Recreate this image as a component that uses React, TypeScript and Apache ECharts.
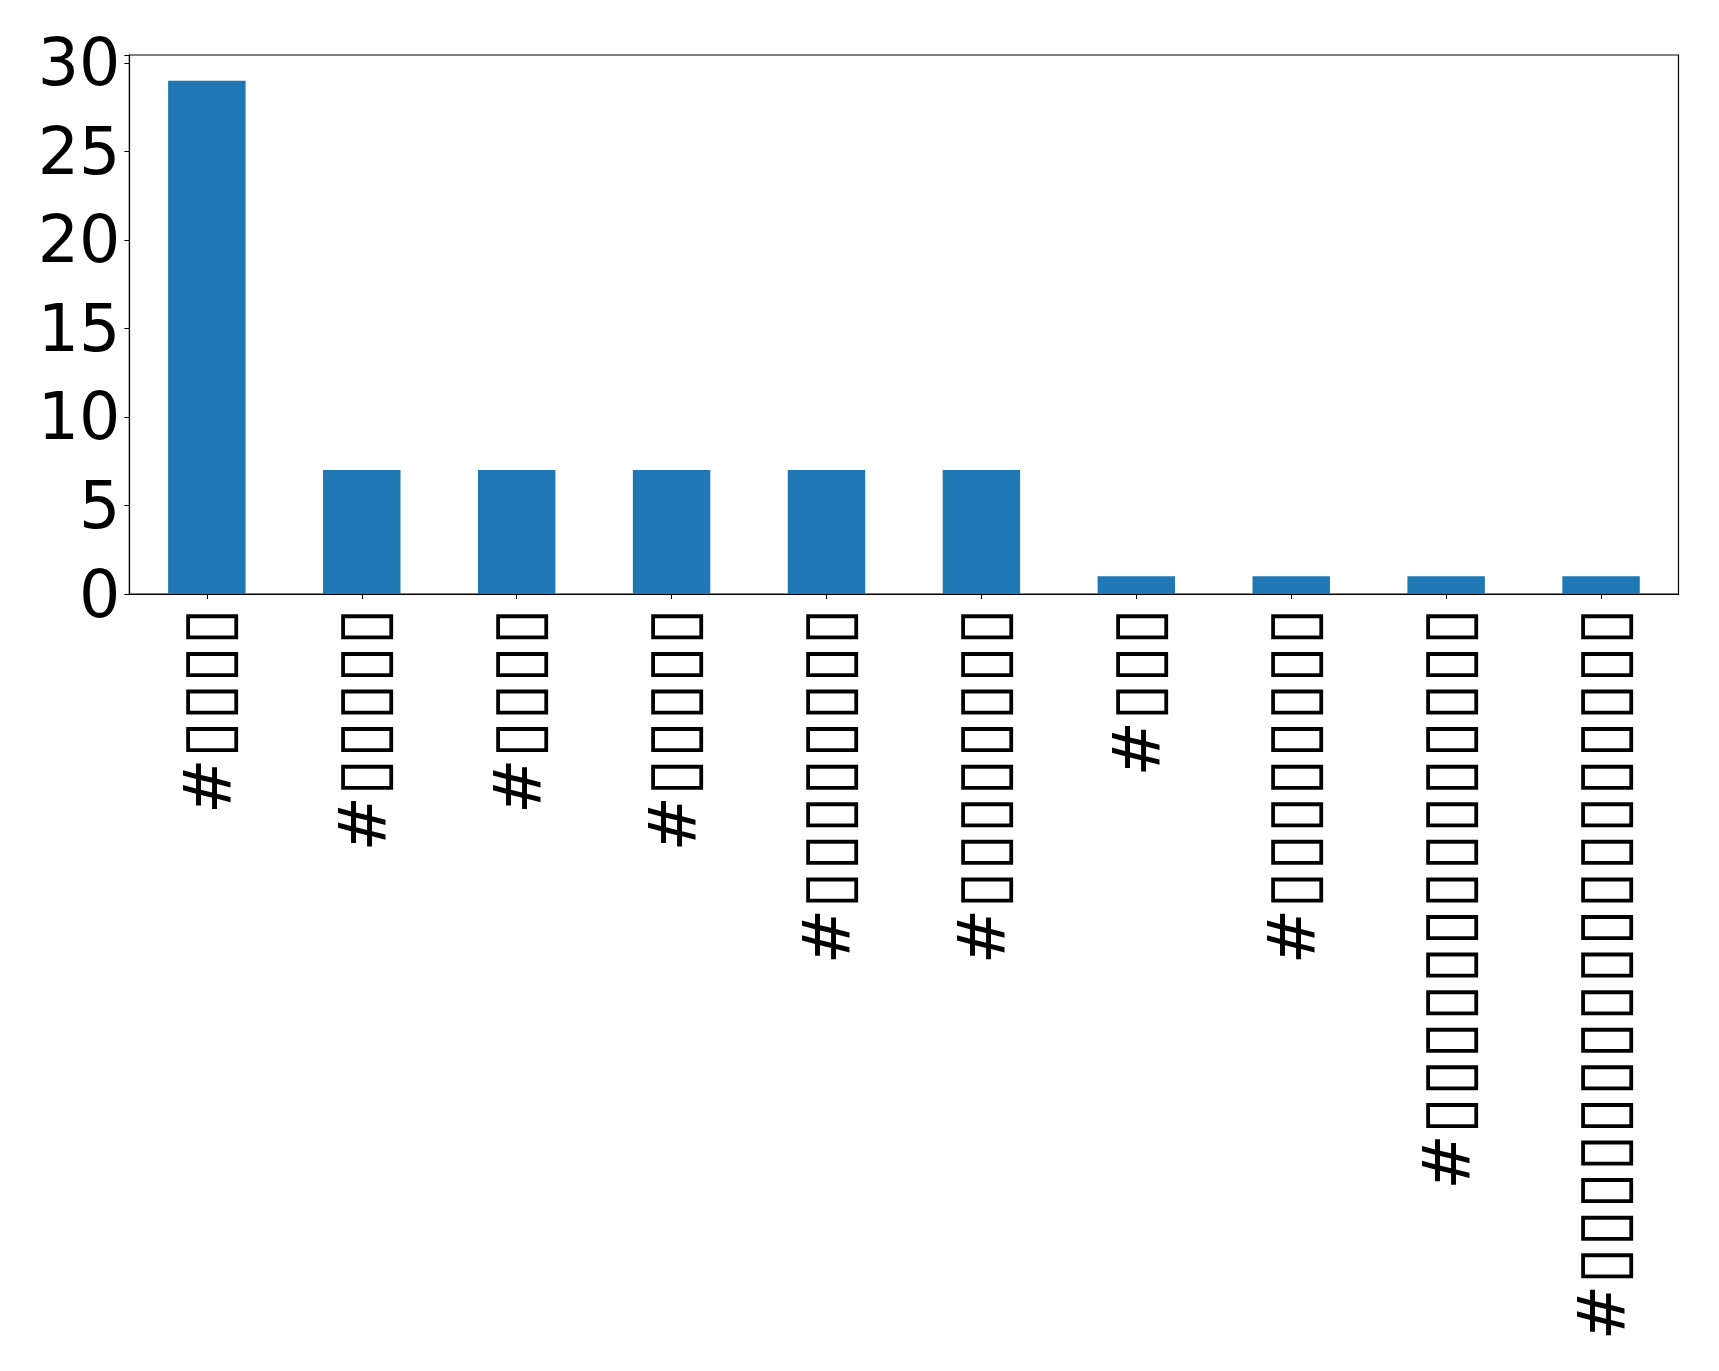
import React, { useEffect, useRef } from "react";
import * as echarts from "echarts";

const categories = [
  "#▯▯▯▯",
  "#▯▯▯▯▯",
  "#▯▯▯▯",
  "#▯▯▯▯▯",
  "#▯▯▯▯▯▯▯▯",
  "#▯▯▯▯▯▯▯▯",
  "#▯▯▯",
  "#▯▯▯▯▯▯▯▯",
  "#▯▯▯▯▯▯▯▯▯▯▯▯▯▯",
  "#▯▯▯▯▯▯▯▯▯▯▯▯▯▯▯▯▯▯",
];
const counts = [29, 7, 7, 7, 7, 7, 1, 1, 1, 1];
const yTicks = [0, 5, 10, 15, 20, 25, 30];

export default function App() {
  const ref = useRef<HTMLDivElement>(null);
  useEffect(() => {
    document.body.style.margin = "0";
    const chart = echarts.init(ref.current!, null, { renderer: "svg" });
    chart.setOption({
      animation: false,
      backgroundColor: "#ffffff",
      grid: {
        left: 129.4,
        right: 40.5,
        top: 55,
        bottom: 777,
        show: true,
        borderColor: "#000000",
        borderWidth: 1.2,
        backgroundColor: "transparent",
      },
      xAxis: {
        type: "category",
        data: categories,
        axisLine: { show: true, lineStyle: { color: "#000", width: 1.2 } },
        axisTick: { show: true, alignWithLabel: true, length: 5, lineStyle: { color: "#000" } },
        axisLabel: {
          rotate: 90,
          interval: 0,
          color: "#000",
          fontFamily: "DejaVu Sans",
          fontSize: 66.7,
          margin: 14,
          formatter: (v: string) => "{h|" + v.slice(0, 1) + "}{b|" + v.slice(1) + "}",
          rich: {
            h: { fontFamily: "DejaVu Sans", fontSize: 66.7, color: "#000" },
            b: { fontFamily: "DejaVu Sans", fontSize: 68.3, color: "#000" },
          },
        },
      },
      yAxis: {
        type: "value",
        min: 0,
        max: 30.45,
        interval: 5,
        splitLine: { show: false },
        axisLine: { show: true, lineStyle: { color: "#000", width: 1.2 } },
        axisTick: { show: true, length: 5, lineStyle: { color: "#000" } },
        axisLabel: {
          color: "#000",
          fontFamily: "DejaVu Sans",
          fontSize: 65,
          margin: 9,
          formatter: (v: number) => (yTicks.includes(v) ? String(v) : ""),
        },
      },
      series: [
        {
          type: "bar",
          data: counts,
          barWidth: "50%",
          itemStyle: { color: "#1f77b4" },
        },
      ],
    });
    return () => chart.dispose();
  }, []);
  return <div ref={ref} style={{ width: 1719, height: 1371 }} />;
}
